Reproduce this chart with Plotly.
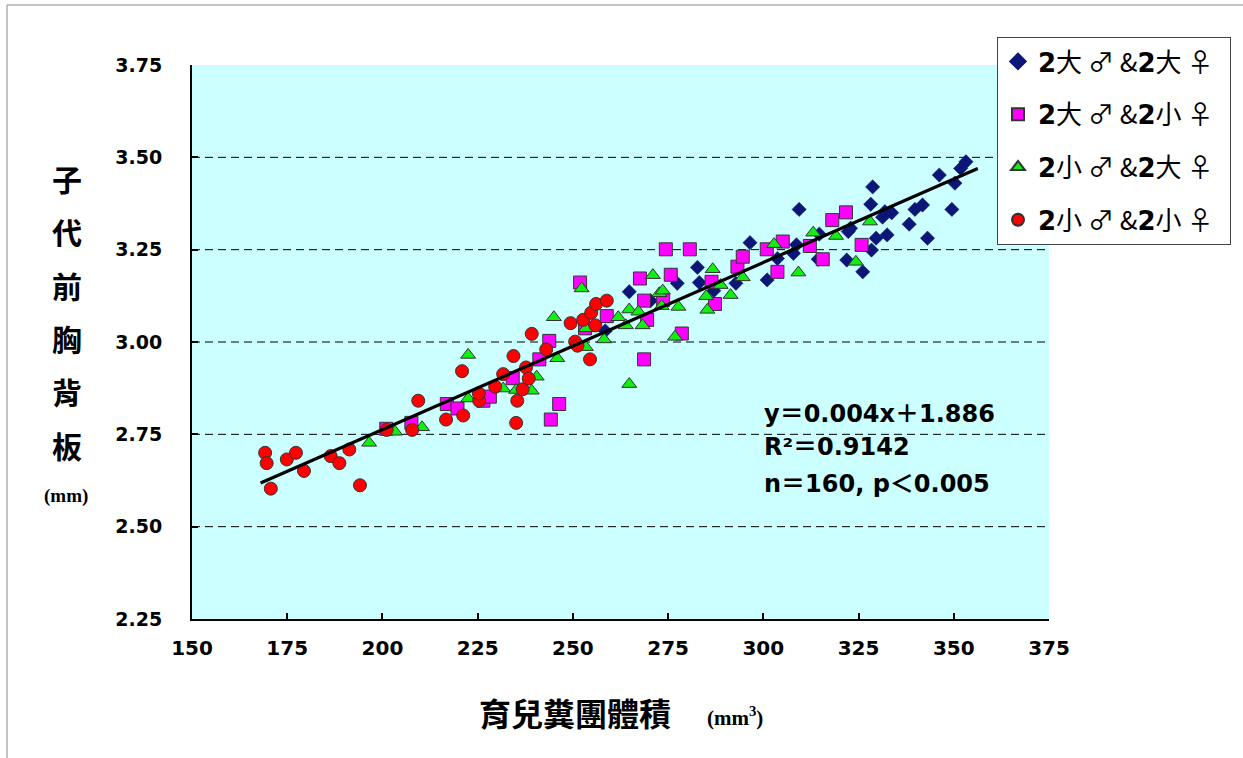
import plotly.graph_objects as go

# ---------------- data ----------------
B2 = '<span style="font-family:DejaVu Sans"><b>2</b></span>'
PAD = "\u00a0\u00a0"
s1_name = B2 + '大 ♂ &' + B2 + '大 ♀' + PAD
s2_name = B2 + '大 ♂ &' + B2 + '小 ♀' + PAD
s3_name = B2 + '小 ♂ &' + B2 + '大 ♀' + PAD
s4_name = B2 + '小 ♂ &' + B2 + '小 ♀' + PAD

s1_x = [258.5, 264.8, 270.4, 277.4, 282.7, 283.2, 287.0, 292.8, 296.5, 301.0, 303.7, 307.9, 308.7,
        309.4, 314.4, 314.7, 321.9, 322.3, 322.9, 326.1, 328.4, 329.6, 328.2, 328.7, 331.3, 331.9,
        332.5, 333.7, 338.3, 339.8, 341.8, 343.1, 346.2, 349.5, 350.3, 351.8, 353.2]
s1_y = [3.03, 3.136, 3.112, 3.159, 3.202, 3.161, 3.139, 3.159, 3.269, 3.168, 3.226, 3.24, 3.263,
        3.359, 3.224, 3.292, 3.222, 3.299, 3.308, 3.19, 3.249, 3.281, 3.373, 3.42, 3.338, 3.353,
        3.29, 3.35, 3.319, 3.359, 3.371, 3.281, 3.452, 3.359, 3.43, 3.47, 3.488]

s2_x = [201.0, 207.6, 216.9, 219.7, 226.5, 228.2, 234.2, 241.2, 243.8, 246.4, 244.2, 251.9, 253.2,
        258.9, 267.6, 268.7, 269.5, 268.7, 273.7, 274.4, 280.7, 275.7, 278.6, 286.4, 287.3, 293.2,
        294.6, 300.9, 305.1, 303.7, 312.2, 315.6, 318.1, 321.7, 325.8]
s2_y = [2.765, 2.781, 2.832, 2.82, 2.841, 2.852, 2.902, 2.953, 3.003, 2.832, 2.79, 3.161, 3.037,
        3.07, 3.172, 3.112, 3.06, 2.953, 3.114, 3.251, 3.251, 3.182, 3.023, 3.163, 3.103, 3.204,
        3.231, 3.251, 3.272, 3.19, 3.26, 3.224, 3.33, 3.351, 3.263]

s3_x = [196.5, 203.3, 210.4, 222.5, 222.5, 231.7, 235.1, 239.2, 240.5, 245.9, 245.0, 252.3, 253.4,
        253.4, 258.2, 261.9, 263.9, 264.8, 267.2, 268.3, 264.8, 271.0, 272.7, 273.6, 273.3, 277.7,
        276.8, 286.7, 285.0, 285.3, 288.8, 291.4, 294.6, 302.8, 309.2, 313.1, 319.1, 324.3, 328.0]
s3_y = [2.727, 2.757, 2.769, 2.965, 2.847, 2.874, 2.87, 2.868, 2.906, 2.956, 3.067, 3.145, 3.037,
        2.986, 3.007, 3.067, 3.045, 3.088, 3.082, 3.045, 2.886, 3.181, 3.132, 3.139, 3.097, 3.095,
        3.014, 3.197, 3.124, 3.087, 3.154, 3.127, 3.175, 3.265, 3.188, 3.296, 3.287, 3.217, 3.326]

s4_x = [169.2, 169.6, 170.7, 174.9, 177.3, 179.4, 186.4, 188.7, 191.3, 194.1, 201.1, 207.8, 209.4,
        216.7, 221.2, 220.9, 225.4, 225.3, 229.6, 231.7, 234.4, 235.4, 235.1, 236.8, 237.7, 238.4,
        239.2, 243.0, 249.4, 250.6, 251.2, 252.7, 254.5, 254.8, 255.9, 256.1, 258.9]
s4_y = [2.70, 2.672, 2.603, 2.682, 2.70, 2.651, 2.691, 2.672, 2.709, 2.612, 2.762, 2.762, 2.841,
        2.79, 2.801, 2.921, 2.841, 2.861, 2.879, 2.913, 2.962, 2.841, 2.781, 2.872, 2.931, 2.901,
        3.022, 2.98, 3.051, 3.001, 2.99, 3.06, 2.953, 3.079, 3.045, 3.103, 3.112]

fit_x = [168.0, 356.3]
fit_y = [2.618, 3.470]

x_ticks = [150, 175, 200, 225, 250, 275, 300, 325, 350, 375]
y_ticks = [2.25, 2.50, 2.75, 3.00, 3.25, 3.50, 3.75]
y_grid = [2.50, 2.75, 3.00, 3.25, 3.50]

y_title_chars = ["子", "代", "前", "胸", "背", "板"]
x_title = "育兒糞團體積"
eq_lines = ["y＝0.004x＋1.886", "R²＝0.9142", "n＝160, p＜0.005"]

# ---------------- figure ----------------
W, H = 1243, 758
L, R, T, B = 192, 194, 65, 139
PW, PH = W - L - R, H - T - B

def px_x(p):
    return (p - L) / PW

def px_y(p):
    return (H - B - p) / PH

fig = go.Figure()
edge = dict(color="#333333", width=1)
fig.add_trace(go.Scatter(x=s1_x, y=s1_y, mode="markers", name=s1_name, legendgroup="a",
                         marker=dict(symbol="diamond", size=11, color="#0B1677",
                                     line=dict(color="#0B1677", width=0.5))))
fig.add_trace(go.Scatter(x=s2_x, y=s2_y, mode="markers", name=s2_name, legendgroup="b",
                         marker=dict(symbol="square", size=13, color="#FF00FF", line=edge)))
fig.add_trace(go.Scatter(x=s3_x, y=s3_y, mode="markers", name=s3_name, legendgroup="c",
                         marker=dict(symbol="triangle-up", size=13, color="#11EE11", line=edge)))
fig.add_trace(go.Scatter(x=s4_x, y=s4_y, mode="markers", name=s4_name, legendgroup="d",
                         marker=dict(symbol="circle", size=13, color="#FF0000", line=edge)))
fig.add_trace(go.Scatter(x=fit_x, y=fit_y, mode="lines", showlegend=False,
                         line=dict(color="black", width=3.2)))

shapes = []
for g in y_grid:
    shapes.append(dict(type="line", xref="paper", yref="y", x0=0, x1=1, y0=g, y1=g,
                       line=dict(color="black", width=1, dash="8px,5px"), layer="below"))
# outer frame (left and top edges visible)
shapes.append(dict(type="line", xref="paper", yref="paper", x0=px_x(7), x1=px_x(W + 5),
                   y0=px_y(5), y1=px_y(5), line=dict(color="#8a8a8a", width=1)))
shapes.append(dict(type="line", xref="paper", yref="paper", x0=px_x(7), x1=px_x(7),
                   y0=px_y(5), y1=px_y(H + 5), line=dict(color="#8a8a8a", width=1)))

ann = []
cjk = "Noto Sans CJK TC"
for i, ch in enumerate(y_title_chars):
    ann.append(dict(text="<b>" + ch + "</b>", xref="paper", yref="paper", x=px_x(67), y=px_y(178 + i * 53.3),
                    showarrow=False, xanchor="center", yanchor="middle",
                    font=dict(family=cjk, size=30, color="black")))
ann.append(dict(text="<b>(mm)</b>", xref="paper", yref="paper", x=px_x(66), y=px_y(496),
                showarrow=False, xanchor="center", yanchor="middle",
                font=dict(family="Liberation Serif", size=19, color="black")))
ann.append(dict(text="<b>" + x_title + "</b>", xref="paper", yref="paper", x=px_x(575), y=px_y(712),
                showarrow=False, xanchor="center", yanchor="middle",
                font=dict(family=cjk, size=32, color="black")))
ann.append(dict(text="<b>(mm<sup>3</sup>)</b>", xref="paper", yref="paper", x=px_x(705), y=px_y(716),
                showarrow=False, xanchor="left", yanchor="middle",
                font=dict(family="Liberation Serif", size=21, color="black")))
for i, (line, yy) in enumerate(zip(eq_lines, [414, 447, 484])):
    ann.append(dict(text="<b>" + line + "</b>", xref="paper", yref="paper", x=px_x(762), y=px_y(yy),
                    showarrow=False, xanchor="left", yanchor="middle",
                    font=dict(family="DejaVu Sans, " + cjk, size=24, color="black")))

fig.update_layout(
    width=W, height=H,
    margin=dict(l=L, r=R, t=T, b=B),
    paper_bgcolor="white",
    plot_bgcolor="#CCFFFF",
    shapes=shapes,
    annotations=ann,
    showlegend=True,
    legend=dict(x=px_x(997), y=px_y(37), xanchor="left", yanchor="top",
                bgcolor="white", bordercolor="#444444", borderwidth=1,
                font=dict(family=cjk, size=26, color="black"),
                traceorder="grouped", tracegroupgap=16, itemsizing="constant"),
    xaxis=dict(range=[150, 375], tickvals=x_ticks, ticktext=[str(v) for v in x_ticks],
               showgrid=False, zeroline=False, showline=True, linecolor="black", linewidth=2,
               ticks="inside", ticklen=6, tickwidth=1.5, tickcolor="black",
               tickfont=dict(family="DejaVu Sans", size=20, color="black", weight="bold"),
               ticklabelstandoff=10),
    yaxis=dict(range=[2.25, 3.75], tickvals=y_ticks, ticktext=["%.2f" % v for v in y_ticks],
               showgrid=False, zeroline=False, showline=True, linecolor="black", linewidth=2,
               ticks="inside", ticklen=6, tickwidth=1.5, tickcolor="black",
               tickfont=dict(family="DejaVu Sans", size=19, color="black", weight="bold"),
               ticklabelstandoff=24),
)

fig.write_html("out.html")
